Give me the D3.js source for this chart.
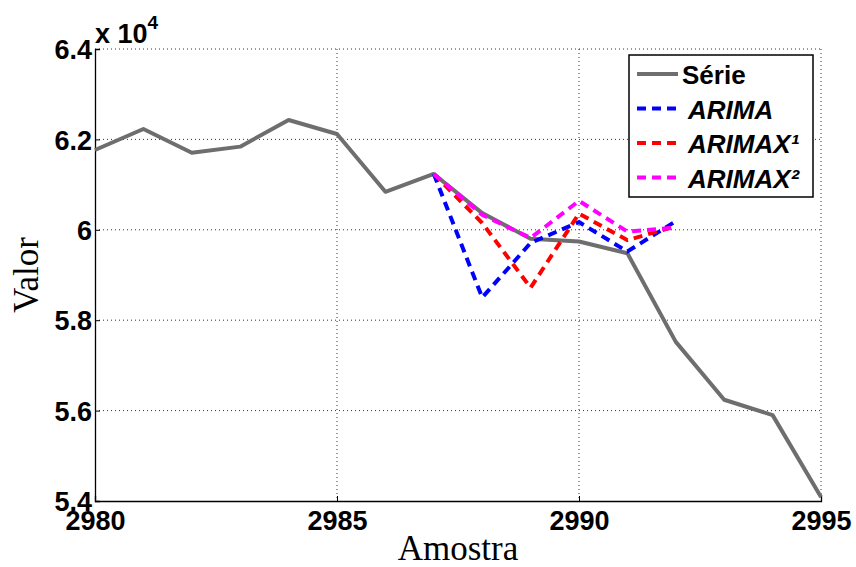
<!DOCTYPE html>
<html>
<head>
<meta charset="utf-8">
<script src="https://cdn.jsdelivr.net/npm/d3@7"></script>
<style>
  body { margin: 0; background: #fff; }
  svg { display: block; }
  .tick text { font-family: "Liberation Sans", Arial, sans-serif; font-weight: bold; font-size: 27px; fill: #000; }
</style>
</head>
<body>
<script>
// data
const amostra = d3.range(2980, 2996);
const serie = [61765, 62230, 61706, 61840, 62430, 62120, 60840, 61235, 60370, 59800, 59740, 59480, 57520, 56240, 55900, 54090];

const prevX = [2987, 2988, 2989, 2990, 2991, 2992];
const arima = [61235, 58500, 59710, 60170, 59520, 60190];
const arimax1 = [61235, 60150, 58720, 60360, 59770, 60080];
const arimax2 = [61235, 60330, 59820, 60640, 59960, 60050];

const xTicks = [2980, 2985, 2990, 2995];
const yTicks = [54000, 56000, 58000, 60000, 62000, 64000];

const legendNames = ['Série', 'ARIMA', 'ARIMAX¹', 'ARIMAX²'];
const colors = ['#6e6e6e', '#0000ff', '#ff0000', '#ff00ff'];

const W = 856, H = 567;
const margin = { left: 95, right: 35, top: 49, bottom: 66 };

const svg = d3.select('body').append('svg')
  .attr('width', W)
  .attr('height', H);

const x = d3.scaleLinear().domain([2980, 2995]).range([margin.left, W - margin.right]);
const y = d3.scaleLinear().domain([54000, 64000]).range([H - margin.bottom, margin.top]);

// grid
const grid = svg.append('g')
  .attr('stroke', '#333')
  .attr('stroke-width', 1)
  .attr('stroke-dasharray', '1,3');

grid.selectAll('.gx')
  .data(xTicks.slice(1))
  .enter().append('line')
    .attr('x1', d => x(d)).attr('x2', d => x(d))
    .attr('y1', y(64000)).attr('y2', y(54000));

grid.selectAll('.gy')
  .data(yTicks.slice(1))
  .enter().append('line')
    .attr('x1', x(2980)).attr('x2', x(2995))
    .attr('y1', d => y(d)).attr('y2', d => y(d));

// axes
const xAxis = svg.append('g')
  .attr('transform', `translate(0,${y(54000)})`)
  .call(d3.axisBottom(x).tickValues(xTicks).tickSize(-5).tickPadding(10).tickFormat(d3.format('d')));

const yAxis = svg.append('g')
  .attr('transform', `translate(${x(2980)},0)`)
  .call(d3.axisLeft(y).tickValues(yTicks).tickSize(-5).tickPadding(3).tickFormat(d => d3.format('')(+(d / 1e4).toFixed(1))));

[xAxis, yAxis].forEach(a => {
  a.select('.domain').attr('stroke', '#000').attr('stroke-width', 1.3);
  a.selectAll('.tick line').attr('stroke', '#000');
});
xAxis.selectAll('.tick text').attr('dy', '0.71em');
yAxis.selectAll('.tick text').attr('dy', '0.36em');

// exponent label
const expo = svg.append('text')
  .attr('x', 95).attr('y', 43)
  .attr('font-family', '"Liberation Sans", Arial, sans-serif')
  .attr('font-weight', 'bold')
  .attr('font-size', 27);
expo.append('tspan').text('x 10');
expo.append('tspan').attr('dy', -14).attr('font-size', 19).text('4');

// axis titles
svg.append('text')
  .attr('x', (x(2980) + x(2995)) / 2)
  .attr('y', 560)
  .attr('text-anchor', 'middle')
  .attr('font-family', '"Liberation Serif", "Times New Roman", serif')
  .attr('font-size', 35)
  .text('Amostra');

svg.append('text')
  .attr('transform', `translate(38,${(y(54000) + y(64000)) / 2}) rotate(-90)`)
  .attr('text-anchor', 'middle')
  .attr('font-family', '"Liberation Serif", "Times New Roman", serif')
  .attr('font-size', 35)
  .text('Valor');

// lines
const line = d3.line()
  .x(d => x(d[0]))
  .y(d => y(d[1]));

svg.append('path')
  .datum(amostra.map((a, i) => [a, serie[i]]))
  .attr('fill', 'none')
  .attr('stroke', colors[0])
  .attr('stroke-width', 4)
  .attr('stroke-linejoin', 'round')
  .attr('d', line);

[arima, arimax1, arimax2].forEach((s, k) => {
  svg.append('path')
    .datum(prevX.map((a, i) => [a, s[i]]))
    .attr('fill', 'none')
    .attr('stroke', colors[k + 1])
    .attr('stroke-width', 4)
    .attr('stroke-dasharray', '9,6')
    .attr('d', line);
});

// legend
const lg = svg.append('g').attr('transform', 'translate(629,55)');
lg.append('rect')
  .attr('width', 184).attr('height', 142)
  .attr('fill', '#fff')
  .attr('stroke', '#000')
  .attr('stroke-width', 1.5);

const rows = lg.selectAll('.row')
  .data(legendNames)
  .enter().append('g')
    .attr('transform', (d, i) => `translate(0,${19 + i * 34.5})`);

rows.append('line')
  .attr('x1', 8).attr('x2', 49)
  .attr('stroke', (d, i) => colors[i])
  .attr('stroke-width', 4)
  .attr('stroke-dasharray', (d, i) => i === 0 ? null : '9,6');

rows.append('text')
  .attr('x', (d, i) => i === 0 ? 53 : 59)
  .attr('y', 10)
  .attr('font-family', '"Liberation Sans", Arial, sans-serif')
  .attr('font-weight', 'bold')
  .attr('font-size', 26)
  .attr('font-style', (d, i) => i === 0 ? 'normal' : 'italic')
  .text(d => d);
</script>
</body>
</html>
